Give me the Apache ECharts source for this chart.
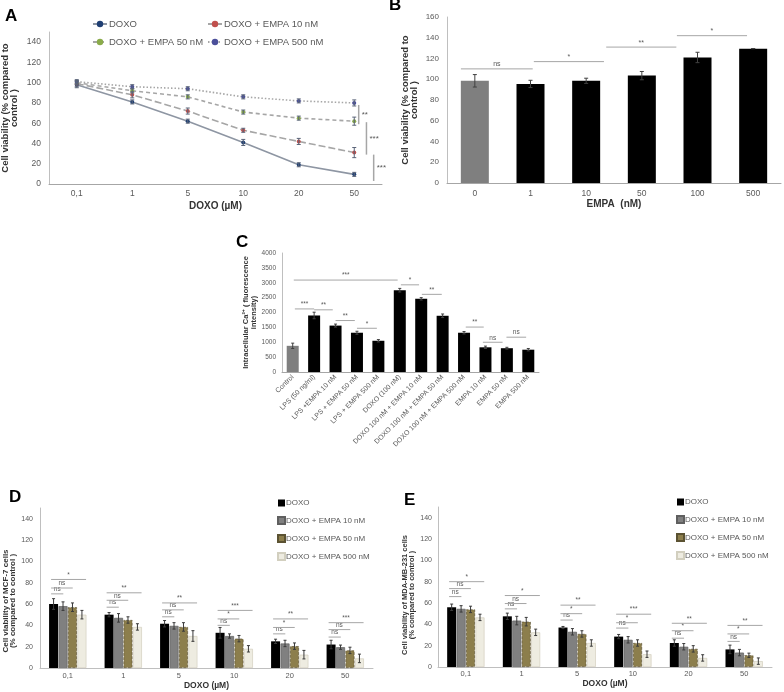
<!DOCTYPE html>
<html><head><meta charset="utf-8">
<script src="https://cdn.jsdelivr.net/npm/echarts@6/dist/echarts.min.js"></script>
<style>html,body{margin:0;padding:0;background:#fff}#c{width:784px;height:692px}</style>
</head><body><div id="c"></div>
<script>
// ---------------- DATA ----------------
// Panel A
const doseCats = ['0,1', '1', '5', '10', '20', '50'];
const aDoxo     = [98, 81, 62, 41, 19, 9.5];
const aEmpa10   = [99, 88, 72, 53, 42, 31];
const aEmpa50   = [100, 92, 86, 71, 65, 62];
const aEmpa500  = [101, 96, 94, 86, 82, 80];
const aDoxoErr    = [3, 2, 2, 3, 2, 2];
const aEmpa10Err  = [3, 3, 3, 2, 3, 5];
const aEmpa50Err  = [2, 2, 2, 2, 2, 4];
const aEmpa500Err = [2, 2, 2, 2, 2, 3];
const aSig = [
  { x: 5.08, y1: 59, y2: 78, label: '**' },
  { x: 5.22, y1: 29, y2: 61, label: '***' },
  { x: 5.35, y1: 3, y2: 29, label: '***' }
];

// Panel B
const empaCats = ['0', '1', '10', '50', '100', '500'];
const bValues = [98.5, 95.5, 98.5, 103.5, 121, 129.5];
const bErr    = [6, 3.5, 2.5, 4, 5, 0];
const bSig = [
  { from: -0.25, to: 1.04, y: 110, label: 'ns' },
  { from: 1.06, to: 2.32, y: 117, label: '*' },
  { from: 2.36, to: 3.62, y: 131, label: '**' },
  { from: 3.63, to: 4.89, y: 142, label: '*' }
];

// Panel C
const caCats = ['Control', 'LPS (50 ng/ml)', 'LPS +EMPA 10 nM', 'LPS + EMPA 50 nM', 'LPS + EMPA 500 nM',
  'DOXO (100 nM)', 'DOXO 100 nM + EMPA 10 nM', 'DOXO 100 nM + EMPA 50 nM', 'DOXO 100 nM + EMPA 500 nM',
  'EMPA 10 nM', 'EMPA 50 nM', 'EMPA 500 nM'];
const caValues = [880, 1900, 1560, 1320, 1050, 2750, 2460, 1890, 1320, 830, 800, 750];
const caErr    = [90, 110, 50, 50, 40, 60, 40, 60, 40, 40, 30, 40];
const caSig = [
  { from: 0.05, to: 4.9, y: 3090, label: '***' },
  { from: 0.1, to: 1.0, y: 2120, label: '***' },
  { from: 1.0, to: 1.87, y: 2090, label: '**' },
  { from: 2.0, to: 2.9, y: 1730, label: '**' },
  { from: 3.0, to: 3.93, y: 1470, label: '*' },
  { from: 5.05, to: 5.9, y: 2930, label: '*' },
  { from: 6.03, to: 6.96, y: 2610, label: '**' },
  { from: 8.08, to: 8.92, y: 1510, label: '**' },
  { from: 8.88, to: 9.8, y: 1000, label: 'ns' },
  { from: 9.98, to: 10.9, y: 1170, label: 'ns' }
];

// Panel D (MCF-7)
const dDoxo    = [60, 50, 41.5, 33, 25, 22];
const dEmpa10  = [58, 47, 39.5, 30, 23, 19.5];
const dEmpa50  = [57, 45, 38.5, 27.5, 20.5, 16.5];
const dEmpa500 = [50, 38.5, 30, 18, 12.5, 9];
const dDoxoErr    = [5, 2, 3, 5, 2, 4];
const dEmpa10Err  = [4, 4, 3, 2, 3, 2];
const dEmpa50Err  = [4, 3, 4, 3, 3, 3];
const dEmpa500Err = [4, 3, 5, 3, 4, 4];
const dSigY = [[69.5, 75, 83], [57, 63.5, 70.5], [48, 54.5, 61], [40, 46, 54], [32, 38, 46], [29, 36, 42.5]];
const dSigLabels = [['ns', 'ns', '*'], ['ns', 'ns', '**'], ['ns', 'ns', '**'], ['ns', '*', '***'], ['ns', '*', '**'], ['ns', 'ns', '***']];

// Panel E (MDA-MB-231)
const eDoxo    = [56, 47.5, 37, 28.5, 22.5, 16.5];
const eEmpa10  = [54.5, 43.5, 33, 25.5, 19, 13.5];
const eEmpa50  = [54, 42.5, 31, 22.5, 17, 11];
const eEmpa500 = [46.5, 32.5, 22.5, 12, 8.5, 5.5];
const eDoxoErr    = [3, 3, 1, 2, 3, 4];
const eEmpa10Err  = [3, 4, 3, 3, 3, 3];
const eEmpa50Err  = [3, 4, 3, 3, 3, 2];
const eEmpa500Err = [3, 3, 3, 3, 3, 3];
const eSigY = [[66, 73.5, 80], [54.5, 59.5, 67], [44, 50, 58], [36.5, 41.5, 49.5], [27, 34, 41], [24, 31, 39]];
const eSigLabels = [['ns', 'ns', '*'], ['ns', 'ns', '*'], ['ns', '*', '**'], ['ns', '*', '***'], ['ns', '*', '**'], ['ns', '*', '**']];

const legendNames = ['DOXO', 'DOXO + EMPA 10 nM', 'DOXO + EMPA 50 nM', 'DOXO + EMPA 500 nM'];

// ---------------- HELPERS ----------------
const FF = "'Liberation Sans', Arial, sans-serif";
const TICK = '#595959';
const NAME = '#333333';

function errSeries(xi, yi, vals, errs, offsetPx, color, capW) {
  return {
    type: 'custom', xAxisIndex: xi, yAxisIndex: yi, silent: true, z: 6,
    data: vals.map((v, i) => [i, v, errs[i]]),
    renderItem: (params, api) => {
      const x = api.value(0), y = api.value(1), e = api.value(2);
      const t = api.coord([x, y + e]), b = api.coord([x, y - e]);
      const px = t[0] + offsetPx;
      const st = { stroke: color, lineWidth: 1 };
      return { type: 'group', children: [
        { type: 'line', shape: { x1: px, y1: t[1], x2: px, y2: b[1] }, style: st },
        { type: 'line', shape: { x1: px - capW, y1: t[1], x2: px + capW, y2: t[1] }, style: st },
        { type: 'line', shape: { x1: px - capW, y1: b[1], x2: px + capW, y2: b[1] }, style: st }
      ]};
    }
  };
}

function bracketSeries(xi, yi, items, fontSize) {
  return {
    type: 'custom', xAxisIndex: xi, yAxisIndex: yi, silent: true, z: 7,
    data: items.map(b => [b.from, b.y, b.to]),
    renderItem: (params, api) => {
      const p1 = api.coord([api.value(0), api.value(1)]);
      const p2 = api.coord([api.value(2), api.value(1)]);
      const lab = items[params.dataIndex].label;
      return { type: 'group', children: [
        { type: 'line', shape: { x1: p1[0], y1: p1[1], x2: p2[0], y2: p2[1] }, style: { stroke: '#a6a6a6', lineWidth: 1 } },
        { type: 'text', style: { text: lab, x: (p1[0] + p2[0]) / 2, y: p1[1] - 1, align: 'center', verticalAlign: 'bottom',
          fontSize: fontSize, fontFamily: FF, fill: '#595959' } }
      ]};
    }
  };
}

function vBracketSeries(xi, yi, items, fontSize) {
  return {
    type: 'custom', xAxisIndex: xi, yAxisIndex: yi, silent: true, z: 7,
    data: items.map(b => [b.x, b.y1, b.y2]),
    renderItem: (params, api) => {
      const p1 = api.coord([api.value(0), api.value(1)]);
      const p2 = api.coord([api.value(0), api.value(2)]);
      const lab = items[params.dataIndex].label;
      return { type: 'group', children: [
        { type: 'line', shape: { x1: p1[0], y1: p1[1], x2: p2[0], y2: p2[1] }, style: { stroke: '#a6a6a6', lineWidth: 1.5 } },
        { type: 'text', style: { text: lab, x: p1[0] + 3, y: (p1[1] + p2[1]) / 2, align: 'left', verticalAlign: 'middle',
          fontSize: fontSize, fontFamily: FF, fill: '#595959' } }
      ]};
    }
  };
}

function groupBrackets(sigY, sigLabels) {
  const ends = [-0.08, 0.09, 0.33];
  const out = [];
  sigY.forEach((ys, g) => ys.forEach((y, k) => out.push({ from: g - 0.3, to: g + ends[k], y: y, label: sigLabels[g][k] })));
  return out;
}

function catAxis(gi, cats, fs, margin, extra) {
  return Object.assign({
    type: 'category', gridIndex: gi, data: cats, boundaryGap: true,
    axisLine: { show: true, onZero: false, lineStyle: { color: '#a6a6a6', width: 1 } },
    axisTick: { show: false }, splitLine: { show: false },
    axisLabel: { color: TICK, fontSize: fs, fontFamily: FF, margin: margin, interval: 0 }
  }, extra || {});
}
function valXAxis(gi, n) {
  return { type: 'value', gridIndex: gi, min: -0.5, max: n - 0.5, show: false };
}
function yAx(gi, max, interval, fs, margin, name, nameFs, nameLh, nameGap, extra) {
  return Object.assign({
    type: 'value', gridIndex: gi, min: 0, max: max, interval: interval,
    axisLine: { show: true, onZero: false, lineStyle: { color: '#bfbfbf', width: 1 } },
    axisTick: { show: false }, splitLine: { show: false },
    axisLabel: { color: TICK, fontSize: fs, fontFamily: FF, margin: margin, showMaxLabel: max % interval === 0,
      formatter: v => String(v) },
    name: name, nameLocation: 'middle', nameGap: nameGap,
    nameTextStyle: { fontSize: nameFs, fontWeight: 'bold', fontFamily: FF, color: NAME, lineHeight: nameLh, align: 'center' }
  }, extra || {});
}

// ---------------- OPTION ----------------
const lineGray = '#a6a6a6';
const markerColors = ['#1f3f73', '#c0504d', '#8aab4a', '#4b4f9a'];
const lineTypes = ['solid', [7, 3], [4, 3], [1.5, 2]];
const aSeriesVals = [aDoxo, aEmpa10, aEmpa50, aEmpa500];
const aSeriesErr = [aDoxoErr, aEmpa10Err, aEmpa50Err, aEmpa500Err];

const barFills = ['#000000', '#808080', '#8c7e4c', '#eeece1'];
const barBorders = ['#000000', '#5f5f5f', '#5b5232', '#d2cfbf'];
const barBorderType = ['solid', 'solid', 'dashed', 'solid'];
const GBW = 9;          // grouped bar width (px)
const GBGAP = 0.05;     // barGap fraction
const gOffsets = [0, 1, 2, 3].map(k => (k - 1.5) * GBW * (1 + GBGAP));

const series = [];

// A lines
aSeriesVals.forEach((vals, k) => {
  series.push({
    type: 'line', name: 'A|' + legendNames[k], xAxisIndex: 0, yAxisIndex: 0, data: vals,
    symbol: 'circle', symbolSize: 4, showSymbol: true,
    lineStyle: { color: k === 0 ? '#8e96a3' : lineGray, width: 1.6, type: lineTypes[k] },
    itemStyle: { color: markerColors[k] }, z: 3
  });
  series.push(errSeries(1, 0, vals, aSeriesErr[k], 0, '#5a6478', 2));
});
series.push(vBracketSeries(1, 0, aSig, 8));

// B bars
series.push({
  type: 'bar', name: 'B', xAxisIndex: 2, yAxisIndex: 1, barWidth: 28,
  data: bValues.map((v, i) => ({ value: v, itemStyle: { color: i === 0 ? '#7f7f7f' : '#000000' } }))
});
series.push(errSeries(3, 1, bValues, bErr, 0, '#404040', 2));
series.push(bracketSeries(3, 1, bSig, 7));

// C bars
series.push({
  type: 'bar', name: 'C', xAxisIndex: 4, yAxisIndex: 2, barWidth: 12,
  data: caValues.map((v, i) => ({ value: v, itemStyle: { color: i === 0 ? '#7f7f7f' : '#000000' } }))
});
series.push(errSeries(5, 2, caValues, caErr, 0, '#404040', 1.5));
series.push(bracketSeries(5, 2, caSig, 6.5));

// D & E grouped bars
function grouped(prefix, xi, xvi, yi, valsArr, errArr, sigY, sigLabels) {
  valsArr.forEach((vals, k) => {
    series.push({
      type: 'bar', name: prefix + '|' + legendNames[k], xAxisIndex: xi, yAxisIndex: yi, data: vals,
      barWidth: GBW, barGap: (GBGAP * 100) + '%',
      itemStyle: { color: barFills[k], borderColor: barBorders[k], borderWidth: k === 0 ? 0 : 0.7, borderType: barBorderType[k] }
    });
    series.push(errSeries(xvi, yi, vals, errArr[k], gOffsets[k], '#3a3a3a', 1.5));
  });
  series.push(bracketSeries(xvi, yi, groupBrackets(sigY, sigLabels), 6.5));
}
grouped('D', 6, 7, 3, [dDoxo, dEmpa10, dEmpa50, dEmpa500], [dDoxoErr, dEmpa10Err, dEmpa50Err, dEmpa500Err], dSigY, dSigLabels);
grouped('E', 8, 9, 4, [eDoxo, eEmpa10, eEmpa50, eEmpa500], [eDoxoErr, eEmpa10Err, eEmpa50Err, eEmpa500Err], eSigY, eSigLabels);

const gridBase = { containLabel: false, outerBoundsMode: 'none' };
const fmt = n => n.split('|')[1];

function legendA(name, left, top) {
  return { data: [name], left: left, top: top, orient: 'horizontal', padding: 0, itemWidth: 14, itemHeight: 8,
    formatter: fmt, selectedMode: false,
    textStyle: { fontSize: 9.5, fontFamily: FF, color: TICK, padding: [0, 0, 0, -3] } };
}
function legendBars(prefix, left, top) {
  return { data: legendNames.map(n => prefix + '|' + n), left: left, top: top, orient: 'vertical', padding: 0,
    itemWidth: 7, itemHeight: 7, itemGap: 9, icon: 'rect', formatter: fmt, selectedMode: false,
    textStyle: { fontSize: 8, fontFamily: FF, color: TICK, padding: [0, 0, 0, -4] } };
}

const option = {
  animation: false,
  backgroundColor: '#ffffff',
  textStyle: { fontFamily: FF },
  grid: [
    Object.assign({ left: 49, top: 32, width: 333, height: 152 }, gridBase),
    Object.assign({ left: 447, top: 17, width: 334, height: 166 }, gridBase),
    Object.assign({ left: 282, top: 253, width: 257, height: 119 }, gridBase),
    Object.assign({ left: 40, top: 508, width: 333, height: 160 }, gridBase),
    Object.assign({ left: 438, top: 507, width: 334, height: 160 }, gridBase)
  ],
  xAxis: [
    catAxis(0, doseCats, 8.5, 5, { name: 'DOXO (µM)', nameLocation: 'middle', nameGap: 17,
      nameTextStyle: { fontSize: 10, fontWeight: 'bold', fontFamily: FF, color: NAME } }),
    valXAxis(0, doseCats.length),
    catAxis(1, empaCats, 8.5, 6, { name: 'EMPA  (nM)', nameLocation: 'middle', nameGap: 14,
      nameTextStyle: { fontSize: 10, fontWeight: 'bold', fontFamily: FF, color: NAME } }),
    valXAxis(1, empaCats.length),
    catAxis(2, caCats, 7, 4, { axisLabel: { color: TICK, fontSize: 7, fontFamily: FF, margin: 4, interval: 0, rotate: 45 } }),
    valXAxis(2, caCats.length),
    catAxis(3, doseCats, 7.5, 4, { axisLine: { onZero: false, lineStyle: { color: '#bfbfbf' } }, name: 'DOXO (µM)', nameLocation: 'middle', nameGap: 12,
      nameTextStyle: { fontSize: 8.5, fontWeight: 'bold', fontFamily: FF, color: NAME } }),
    valXAxis(3, doseCats.length),
    catAxis(4, doseCats, 7.5, 3, { axisLine: { onZero: false, lineStyle: { color: '#bfbfbf' } }, name: 'DOXO (µM)', nameLocation: 'middle', nameGap: 11,
      nameTextStyle: { fontSize: 8.5, fontWeight: 'bold', fontFamily: FF, color: NAME } }),
    valXAxis(4, doseCats.length)
  ],
  yAxis: [
    yAx(0, 150, 20, 8.5, 8, 'Cell viability (% compared to\ncontrol )', 9.5, 9, 30),
    yAx(1, 160, 20, 8, 8, 'Cell viability (% compared to\ncontrol )', 9.5, 9, 28),
    yAx(2, 4000, 500, 6.5, 6, 'Intracellular Ca²⁺ ( fluorescence\nintensity)', 7.5, 7.5, 24),
    yAx(3, 150, 20, 7, 7, 'Cell viability of MCF-7 cells\n(% compared to control )', 8, 7.5, 23,
      { nameTextStyle: { fontSize: 8, fontWeight: 'bold', fontFamily: FF, color: NAME, lineHeight: 7.5, padding: [0, 26, 0, 0] } }),
    yAx(4, 150, 20, 7, 6, 'Cell viability of MDA-MB-231 cells\n(% compared to control )', 7.5, 7.5, 21,
      { nameTextStyle: { fontSize: 7.5, fontWeight: 'bold', fontFamily: FF, color: NAME, lineHeight: 7.5, padding: [0, 16, 0, 0] } })
  ],
  legend: [
    legendA('A|DOXO', 92, 19),
    legendA('A|DOXO + EMPA 10 nM', 207, 19),
    legendA('A|DOXO + EMPA 50 nM', 92, 37),
    legendA('A|DOXO + EMPA 500 nM', 207, 37),
    legendBars('D', 277, 499),
    legendBars('E', 676, 498)
  ],
  graphic: [
    { type: 'text', left: 5, top: 8, style: { text: 'A', font: 'bold 17px ' + FF, fill: '#000' } },
    { type: 'text', left: 389, top: -3, style: { text: 'B', font: 'bold 17px ' + FF, fill: '#000' } },
    { type: 'text', left: 236, top: 234, style: { text: 'C', font: 'bold 17px ' + FF, fill: '#000' } },
    { type: 'text', left: 9, top: 489, style: { text: 'D', font: 'bold 17px ' + FF, fill: '#000' } },
    { type: 'text', left: 404, top: 492, style: { text: 'E', font: 'bold 17px ' + FF, fill: '#000' } }
  ],
  series: series
};

const chart = echarts.init(document.getElementById('c'), null, { renderer: 'canvas' });
chart.setOption(option);
</script>
</body></html>
